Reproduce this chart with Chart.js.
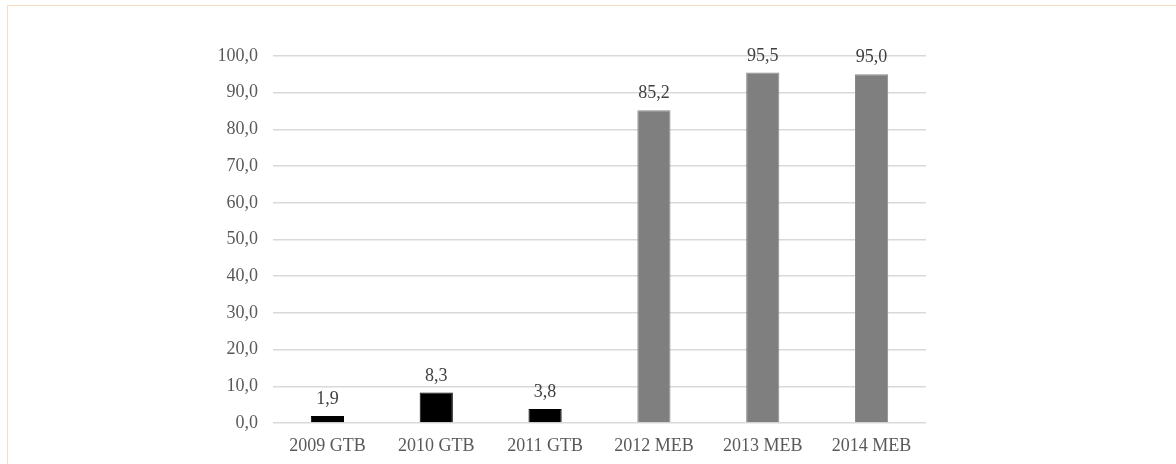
<!DOCTYPE html>
<html>
<head>
<meta charset="utf-8">
<script src="https://cdn.jsdelivr.net/npm/chart.js@4.4.0/dist/chart.umd.min.js"></script>
<style>
  body { margin: 0; background: #fff; }
  #wrap { position: relative; width: 1176px; height: 464px; }
  #frame {
    position: absolute; left: 7px; top: 5px; right: -2px; bottom: -2px;
    border-top: 1px solid #f9dcc2; border-left: 1px solid #f9dcc2;
    pointer-events: none;
  }
</style>
</head>
<body>
<div id="wrap">
  <canvas id="barChart" width="1176" height="464"></canvas>
  <div id="frame"></div>
</div>
<script>
const categories = ['2009 GTB', '2010 GTB', '2011 GTB', '2012 MEB', '2013 MEB', '2014 MEB'];
const values = [1.9, 8.3, 3.8, 85.2, 95.5, 95.0];
const yTicks = [0, 10, 20, 30, 40, 50, 60, 70, 80, 90, 100];

const fmt = v => v.toFixed(1).replace('.', ',');
const serif = "'Liberation Serif', 'Times New Roman', serif";

// value labels above each bar
const valueLabels = {
    id: 'valueLabels',
    afterDatasetsDraw(chart) {
        const ctx = chart.ctx;
        const meta = chart.getDatasetMeta(0);
        ctx.save();
        ctx.font = '18px ' + serif;
        ctx.fillStyle = '#404040';
        ctx.textAlign = 'center';
        ctx.textBaseline = 'alphabetic';
        meta.data.forEach((bar, i) => {
            ctx.fillText(fmt(values[i]), bar.x, bar.y - 12);
        });
        ctx.restore();
    }
};

const config = {
    type: 'bar',
    data: {
        labels: categories,
        datasets: [{
            data: values,
            backgroundColor: categories.map(c => c.includes('GTB') ? '#000000' : '#7f7f7f'),
            borderColor: categories.map(c => c.includes('GTB') ? '#000000' : '#8a8a8a'),
            borderWidth: 1,
            barPercentage: 0.305,
            categoryPercentage: 1
        }]
    },
    options: {
        responsive: false,
        animation: false,
        layout: { padding: { left: 0, right: 250, top: 56, bottom: 0 } },
        plugins: { legend: { display: false }, tooltip: { enabled: false } },
        scales: {
            x: {
                grid: { display: false },
                border: { display: false },
                ticks: { color: '#595959', font: { family: serif, size: 18 }, padding: 4, maxRotation: 0 },
                afterFit(scale) { scale.height = 41; }
            },
            y: {
                min: 0,
                max: 100,
                afterBuildTicks(scale) { scale.ticks = yTicks.map(v => ({ value: v })); },
                grid: { color: '#d9d9d9', lineWidth: 1.5, drawTicks: false },
                border: { display: false },
                ticks: { color: '#595959', font: { family: serif, size: 18 }, padding: 15, callback: v => fmt(v) },
                afterFit(scale) { scale.width = 273; }
            }
        }
    },
    plugins: [valueLabels]
};

const barChart = new Chart(document.getElementById('barChart'), config);
</script>
</body>
</html>
